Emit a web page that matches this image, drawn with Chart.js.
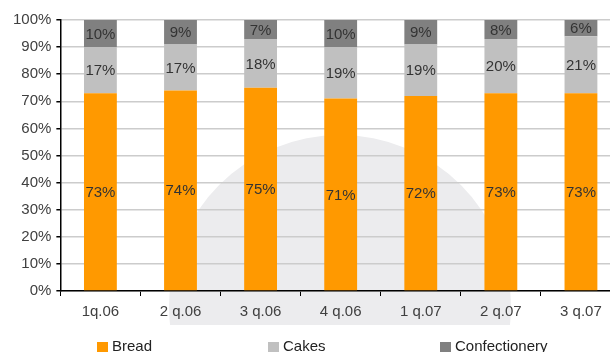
<!DOCTYPE html>
<html>
<head>
<meta charset="utf-8">
<script src="https://cdn.jsdelivr.net/npm/chart.js@4/dist/chart.umd.min.js"></script>
<style>
  html, body { margin: 0; padding: 0; background: #fff; overflow: hidden; width: 610px; height: 352px; }
  #wrap { position: relative; width: 624px; height: 352px; }
</style>
</head>
<body>
<div id="wrap"><canvas id="c" width="624" height="352"></canvas></div>
<script>
// Sales structure by quarter, percent of total
const quarters = ['1q.06', '2 q.06', '3 q.06', '4 q.06', '1 q.07', '2 q.07', '3 q.07'];
const bread = [73, 74, 75, 71, 72, 73, 73];
const cakes = [17, 17, 18, 19, 19, 20, 21];
const confectionery = [10, 9, 7, 10, 9, 8, 6];
const seriesNames = ['Bread', 'Cakes', 'Confectionery'];
const seriesColors = ['#ff9900', '#c0c0c0', '#808080'];

const FONT = '"Liberation Sans", Arial, sans-serif';

// Soft grey disc in the background, partly behind the category labels
const backdrop = {
  id: 'backdrop',
  beforeDraw(chart) {
    const ctx = chart.ctx;
    ctx.save();
    ctx.beginPath();
    ctx.rect(0, 0, chart.width, 325);
    ctx.clip();
    ctx.fillStyle = '#ececee';
    ctx.beginPath();
    ctx.arc(340, 306, 171, 0, Math.PI * 2);
    ctx.fill();
    ctx.restore();
  }
};

// Percent value written in the middle of every segment
const segmentLabels = {
  id: 'segmentLabels',
  afterDatasetsDraw(chart) {
    const ctx = chart.ctx;
    ctx.save();
    ctx.font = '15px ' + FONT;
    ctx.fillStyle = '#333333';
    ctx.textAlign = 'center';
    ctx.textBaseline = 'middle';
    chart.data.datasets.forEach((ds, i) => {
      const meta = chart.getDatasetMeta(i);
      meta.data.forEach((bar, j) => {
        const top = Math.max(bar.y, chart.chartArea.top);
        const y = (top + bar.base) / 2;
        ctx.fillText(ds.data[j] + '%', bar.x, y + 1);
      });
    });
    ctx.restore();
  }
};

// Legend row along the bottom edge
const bottomLegend = {
  id: 'bottomLegend',
  afterDraw(chart) {
    const ctx = chart.ctx;
    const starts = [97, 268, 440];
    ctx.save();
    ctx.font = '15px ' + FONT;
    ctx.textBaseline = 'middle';
    ctx.textAlign = 'left';
    chart.data.datasets.forEach((ds, i) => {
      const x = starts[i];
      ctx.fillStyle = ds.backgroundColor;
      ctx.fillRect(x, 342, 11, 11);
      ctx.fillStyle = '#222222';
      ctx.fillText(ds.label, x + 15, 347);
    });
    ctx.restore();
  }
};

const seriesData = [bread, cakes, confectionery];

new Chart(document.getElementById('c'), {
  type: 'bar',
  data: {
    labels: quarters,
    datasets: seriesData.map((d, i) => ({
      label: seriesNames[i],
      data: d,
      backgroundColor: seriesColors[i],
      borderWidth: 0,
      categoryPercentage: 0.41,
      barPercentage: 1
    }))
  },
  options: {
    responsive: false,
    animation: false,
    events: [],
    layout: { padding: { left: 8, top: 20, right: 3, bottom: 24 } },
    plugins: {
      legend: { display: false },
      tooltip: { enabled: false }
    },
    scales: {
      x: {
        stacked: true,
        grid: { drawOnChartArea: false, drawTicks: true, tickLength: 5, color: '#000000', offset: true },
        border: { color: '#000000', width: 1.5 },
        ticks: { color: '#404040', font: { family: FONT, size: 15 }, padding: 7, maxRotation: 0 }
      },
      y: {
        stacked: true,
        min: 0,
        max: 100,
        grid: { color: '#cccccc', lineWidth: 1.5, tickLength: 4, tickColor: '#000000' },
        border: { color: '#000000', width: 1.5 },
        ticks: {
          stepSize: 10,
          color: '#404040',
          font: { family: FONT, size: 15 },
          padding: 5,
          callback: v => v + '%'
        }
      }
    }
  },
  plugins: [backdrop, segmentLabels, bottomLegend]
});
</script>
</body>
</html>
